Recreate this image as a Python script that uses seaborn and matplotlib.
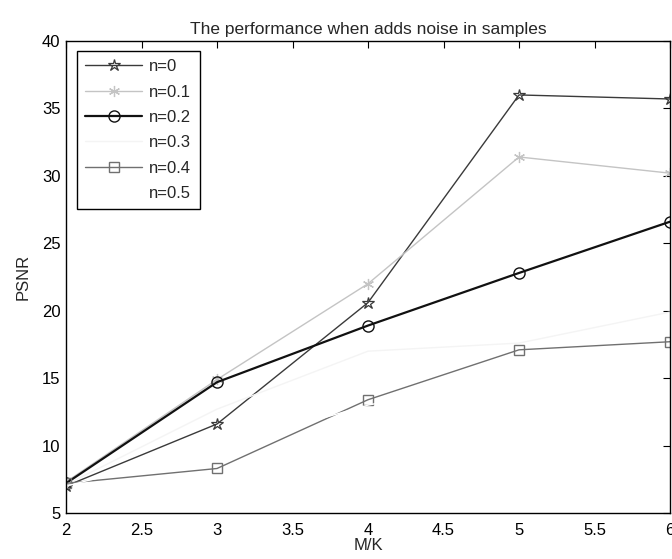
import matplotlib
matplotlib.use("Agg")
import matplotlib.pyplot as plt
import seaborn as sns
import pandas as pd

# ---- data ----
mk = [2, 3, 4, 5, 6]
psnr_n0 = [7.0, 11.6, 20.6, 36.0, 35.7]
psnr_n01 = [7.3, 14.9, 22.0, 31.4, 30.2]
psnr_n02 = [7.2, 14.7, 18.9, 22.8, 26.6]
psnr_n03 = [7.1, 12.7, 17.0, 17.6, 19.9]
psnr_n04 = [7.2, 8.3, 13.4, 17.1, 17.7]
psnr_n05 = [7.0, 9.8, 13.0, 15.2, 16.2]
labels = ["n=0", "n=0.1", "n=0.2", "n=0.3", "n=0.4", "n=0.5"]
series = [psnr_n0, psnr_n01, psnr_n02, psnr_n03, psnr_n04, psnr_n05]

title = "The performance when adds noise in samples"
xlabel = "M/K"
ylabel = "PSNR"
xticks = [2, 2.5, 3, 3.5, 4, 4.5, 5, 5.5, 6]
yticks = [5, 10, 15, 20, 25, 30, 35, 40]

rows = []
for lab, vals in zip(labels, series):
    for x, y in zip(mk, vals):
        rows.append({"M/K": x, "PSNR": y, "noise": lab})
df = pd.DataFrame(rows)

sns.set_style("white")
plt.rcParams["font.family"] = ["Liberation Sans", "DejaVu Sans"]
FS = 12

styles = {
    "n=0":   dict(color="#3a3a3a", lw=1.0, marker="*", ms=9, mfc="none", mew=0.9),
    "n=0.1": dict(color="#c4c4c4", lw=1.0, marker=(6, 2, 0), ms=8, mfc="none", mew=0.9),
    "n=0.2": dict(color="#111111", lw=1.6, marker="o", ms=8, mfc="none", mew=1.0),
    "n=0.3": dict(color="#f4f4f4", lw=1.0, marker=None, ms=0, mfc="none", mew=0),
    "n=0.4": dict(color="#707070", lw=1.0, marker="s", ms=7.5, mfc="none", mew=1.0),
    "n=0.5": dict(color="#ffffff", lw=1.0, marker=None, ms=0, mfc="none", mew=0),
}

fig = plt.figure(figsize=(6.72, 5.59), dpi=100)
ax = fig.add_axes([66 / 672, 1 - 513 / 559, (670 - 66) / 672, (513 - 41) / 559])

for lab in labels:
    st = styles[lab]
    sub = df[df["noise"] == lab]
    sns.lineplot(data=sub, x="M/K", y="PSNR", ax=ax, label=lab,
                 color=st["color"], linewidth=st["lw"], marker=st["marker"],
                 markersize=st["ms"], markerfacecolor=st["mfc"],
                 markeredgecolor=st["color"], markeredgewidth=st["mew"],
                 estimator=None, sort=False)

ax.set_xlim(2, 6)
ax.set_ylim(5, 40)
ax.set_xticks(xticks)
ax.set_xticklabels([f"{t:g}" for t in xticks])
ax.set_yticks(yticks)
ax.set_yticklabels([f"{t:g}" for t in yticks])
ax.tick_params(direction="in", length=5, width=0.8, top=True, right=True,
               labelsize=FS, colors="black")
ax.tick_params(axis="x", pad=7)
ax.tick_params(axis="y", pad=4)
for sp in ax.spines.values():
    sp.set_visible(True)
    sp.set_color("black")
    sp.set_linewidth(1.0)

ax.set_title(title, fontsize=FS + 0.5, pad=5)
ax.set_xlabel(xlabel, fontsize=FS, labelpad=0)
ax.set_ylabel(ylabel, fontsize=FS, labelpad=8)

leg = ax.legend(loc="upper left", bbox_to_anchor=(0.018, 0.979), borderaxespad=0,
                fancybox=False, frameon=True, framealpha=1, edgecolor="black",
                handlelength=3.4, labelspacing=0.62, fontsize=FS, borderpad=0.5,
                handletextpad=0.45)
leg.get_frame().set_linewidth(1.0)

fig.savefig("out.png", dpi=100)
